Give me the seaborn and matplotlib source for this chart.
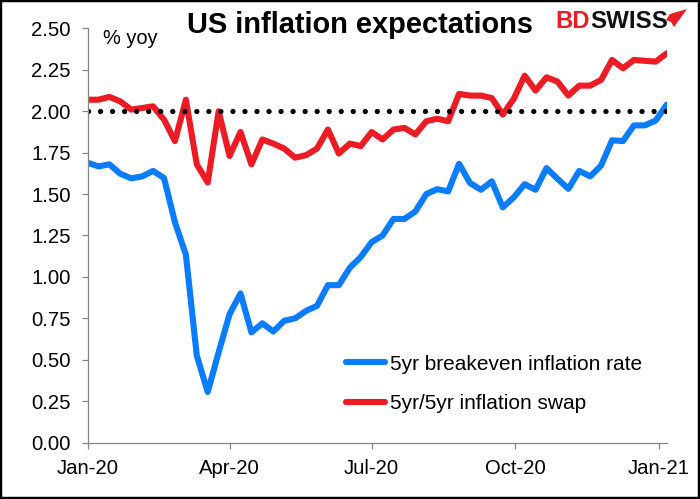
import pandas as pd
import seaborn as sns
import matplotlib.pyplot as plt
import matplotlib.dates as mdates
from matplotlib.patches import Polygon, Rectangle

# weekly readings
breakeven = [1.69, 1.667, 1.68, 1.623, 1.595, 1.607, 1.64, 1.597, 1.33, 1.135,
             0.525, 0.305, 0.545, 0.775, 0.90, 0.665, 0.72, 0.67, 0.735, 0.75,
             0.795, 0.825, 0.95, 0.95, 1.055, 1.12, 1.21, 1.25, 1.35, 1.35,
             1.395, 1.50, 1.53, 1.516, 1.683, 1.567, 1.526, 1.577, 1.42, 1.48,
             1.56, 1.526, 1.657, 1.593, 1.532, 1.64, 1.607, 1.673, 1.825, 1.82,
             1.915, 1.915, 1.945, 2.04]
swap = [2.07, 2.07, 2.087, 2.06, 2.01, 2.02, 2.03, 1.95, 1.82, 2.07,
        1.68, 1.57, 2.0, 1.73, 1.875, 1.68, 1.83, 1.805, 1.775, 1.72,
        1.735, 1.775, 1.89, 1.745, 1.805, 1.79, 1.875, 1.83, 1.89, 1.90,
        1.86, 1.94, 1.955, 1.94, 2.105, 2.095, 2.095, 2.08, 1.98, 2.075,
        2.215, 2.125, 2.205, 2.18, 2.095, 2.155, 2.155, 2.19, 2.31, 2.26,
        2.31, 2.305, 2.30, 2.35]
target = [2.0, 2.0]
yticks = [0.0, 0.25, 0.5, 0.75, 1.0, 1.25, 1.5, 1.75, 2.0, 2.25, 2.5]
xticks = ["2020-01-01", "2020-04-01", "2020-07-01", "2020-10-01", "2021-01-01"]

dates = pd.date_range("2020-01-01", periods=len(breakeven), freq="7D")
df = pd.DataFrame({"date": dates, "breakeven": breakeven, "swap": swap})
target_df = pd.DataFrame({"date": [dates[0], dates[-1]], "level": target})

sns.set_style("white")
plt.rcParams["font.family"] = ["Liberation Sans", "DejaVu Sans"]

W, H = 700, 499
GREY = "#868686"

fig = plt.figure(figsize=(7, 4.99), dpi=100)
ax = fig.add_axes([87.5 / W, 1 - 442.5 / H, (666.7 - 87.5) / W, (442.5 - 28.5) / H])

sns.lineplot(data=df, x="date", y="breakeven", ax=ax, color="#0A7CFF", linewidth=4.4,
             label="5yr breakeven inflation rate", solid_capstyle="round", solid_joinstyle="round")
sns.lineplot(data=df, x="date", y="swap", ax=ax, color="#ED1C24", linewidth=4.4,
             label="5yr/5yr inflation swap", solid_capstyle="round", solid_joinstyle="round")
sns.lineplot(data=target_df, x="date", y="level", ax=ax, color="black", linewidth=3.8,
             linestyle=(0, (0.01, 2.27)), dash_capstyle="round", legend=False)

ax.set_xlim(dates[0], dates[-1])
ax.set_ylim(0, 2.5)
ax.set_xlabel("")
ax.set_ylabel("")
ax.set_yticks(yticks)
ax.set_yticklabels([f"{v:.2f}" for v in yticks])
ax.set_xticks(pd.to_datetime(xticks))
ax.xaxis.set_major_formatter(mdates.DateFormatter("%b-%y"))

for side in ["top", "right"]:
    ax.spines[side].set_visible(False)
for side in ["left", "bottom"]:
    ax.spines[side].set_color(GREY)
    ax.spines[side].set_linewidth(0.9)
ax.tick_params(axis="both", which="major", direction="out", length=4.6, width=0.9,
               color=GREY, labelsize=14.6, labelcolor="black", bottom=True, left=True)
ax.tick_params(axis="y", pad=7.5)
ax.tick_params(axis="x", pad=7)

fig.text(103 / W, 1 - 39 / H, "% yoy", fontsize=14.4, ha="left", va="center", color="black")
fig.text(360 / W, 1 - 33 / H, "US inflation expectations", fontsize=20.9, fontweight="bold",
         ha="center", va="baseline", color="black")

leg = ax.legend(loc="upper left", bbox_to_anchor=(346 / W, 1 - 354.5 / H),
                bbox_transform=fig.transFigure, frameon=False, fontsize=15,
                handlelength=1.87, handletextpad=0.26, labelspacing=1.0,
                borderpad=0, borderaxespad=0, labelcolor="black")

# logo
logo_y = 1 - 28 / H
fig.text(555 / W, logo_y, "BD", fontsize=17.2, fontweight="bold", color="#ED1C24",
         ha="left", va="baseline")
fig.text(590 / W, logo_y, "SWISS", fontsize=17.4, fontweight="bold", color="#111111",
         ha="left", va="baseline")
arrow = [(670, 14), (687, 9), (674, 27), (671, 22), (666, 20)]
fig.add_artist(Polygon([(x / W, 1 - y / H) for x, y in arrow], closed=True,
                       transform=fig.transFigure, facecolor="#ED1C24", edgecolor="none"))

# black frame round the picture
fig.add_artist(Rectangle((0, 0), 1, 1, transform=fig.transFigure, fill=False,
                         edgecolor="black", linewidth=3.2))

fig.savefig("out.png", dpi=100)
